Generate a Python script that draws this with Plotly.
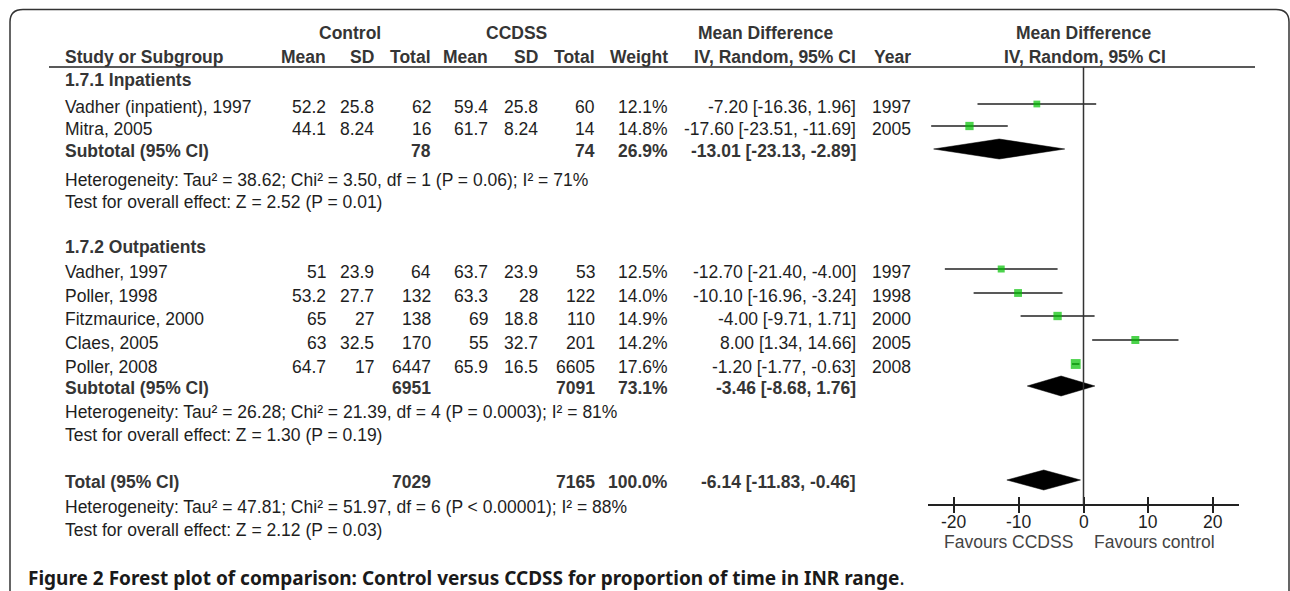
import plotly.graph_objects as go

W, H = 1290, 591

# ---------------- data ----------------
study = ["Vadher (inpatient), 1997", "Mitra, 2005", "Vadher, 1997", "Poller, 1998",
         "Fitzmaurice, 2000", "Claes, 2005", "Poller, 2008"]
ctrl_mean = [52.2, 44.1, 51, 53.2, 65, 63, 64.7]
ctrl_sd = [25.8, 8.24, 23.9, 27.7, 27, 32.5, 17]
ctrl_n = [62, 16, 64, 132, 138, 170, 6447]
ccdss_mean = [59.4, 61.7, 63.7, 63.3, 69, 55, 65.9]
ccdss_sd = [25.8, 8.24, 23.9, 28, 18.8, 32.7, 16.5]
ccdss_n = [60, 14, 53, 122, 110, 201, 6605]
weight = [12.1, 14.8, 12.5, 14.0, 14.9, 14.2, 17.6]
md = [-7.20, -17.60, -12.70, -10.10, -4.00, 8.00, -1.20]
ci_lo = [-16.36, -23.51, -21.40, -16.96, -9.71, 1.34, -1.77]
ci_hi = [1.96, -11.69, -4.00, -3.24, 1.71, 14.66, -0.63]
year = [1997, 2005, 1997, 1998, 2000, 2005, 2008]

group_names = ["1.7.1 Inpatients", "1.7.2 Outpatients"]
pooled_names = ["Subtotal (95% CI)", "Subtotal (95% CI)", "Total (95% CI)"]
pooled_ctrl_n = [78, 6951, 7029]
pooled_ccdss_n = [74, 7091, 7165]
pooled_weight = [26.9, 73.1, 100.0]
pooled_md = [-13.01, -3.46, -6.14]
pooled_lo = [-23.13, -8.68, -11.83]
pooled_hi = [-2.89, 1.76, -0.46]
heterogeneity = [
    "Heterogeneity: Tau² = 38.62; Chi² = 3.50, df = 1 (P = 0.06); I² = 71%",
    "Heterogeneity: Tau² = 26.28; Chi² = 21.39, df = 4 (P = 0.0003); I² = 81%",
    "Heterogeneity: Tau² = 47.81; Chi² = 51.97, df = 6 (P < 0.00001); I² = 88%",
]
overall = [
    "Test for overall effect: Z = 2.52 (P = 0.01)",
    "Test for overall effect: Z = 1.30 (P = 0.19)",
    "Test for overall effect: Z = 2.12 (P = 0.03)",
]
x_ticks = [-20, -10, 0, 10, 20]
x_tick_labels = ["-20", "-10", "0", "10", "20"]
fav_left, fav_right = "Favours CCDSS", "Favours control"
caption_bold = "Figure 2"
caption_text = "Forest plot of comparison: Control versus CCDSS for proportion of time in INR range"

# ---------------- layout (pixel positions) ----------------
FONT = "Liberation Sans, Arial, sans-serif"
FS = 17.5
C_TXT = "#1e1e1e"
C_BOLD = "#353535"
col_x = dict(cm=327, csd=375, cn=432, em=489, esd=539, en=596, w=669, ci=857, yr=912)
LEFT = 64
Y_H1, Y_H2, Y_LINE = 33, 57, 67
Y_GROUP = [80, 247]
Y_STUDY = [107, 129, 272, 296, 319, 343, 367]
Y_POOL = [151, 388, 482]
Y_HET = [180, 412, 507]
Y_TEST = [202, 435, 530]
Y_CAP = 578
Y_TICKLAB = 522
Y_FAV = 542
MARK_SHIFT = -3
POOL_SHIFT = -2
DIAMOND_HALF = 10
Y_AXIS = 504
X0_PX, X1_PX = 928, 1239

ann = []


def txt(x, y, s, anchor="right", bold=False, size=FS, color=None, font=FONT):
    ann.append(dict(
        x=x / W, y=1 - y / H, xref="paper", yref="paper",
        text=f"<b>{s}</b>" if bold else s, showarrow=False,
        xanchor=anchor, yanchor="middle", borderpad=0,
        font=dict(family=font, size=size, color=color or (C_BOLD if bold else C_TXT)),
    ))


# headers
txt(350, Y_H1, "Control", "center", True)
txt(516, Y_H1, "CCDSS", "center", True)
txt(765, Y_H1, "Mean Difference", "center", True)
txt(1083, Y_H1, "Mean Difference", "center", True)
txt(LEFT, Y_H2, "Study or Subgroup", "left", True)
for key, lab in [("cm", "Mean"), ("csd", "SD"), ("cn", "Total"), ("em", "Mean"),
                 ("esd", "SD"), ("en", "Total"), ("w", "Weight"),
                 ("ci", "IV, Random, 95% CI"), ("yr", "Year")]:
    txt(col_x[key], Y_H2, lab, "right", True)
txt(1085, Y_H2, "IV, Random, 95% CI", "center", True)

for gy, gname in zip(Y_GROUP, group_names):
    txt(LEFT, gy, gname, "left", True)

for i in range(len(study)):
    y = Y_STUDY[i]
    txt(LEFT, y, study[i], "left")
    txt(col_x["cm"], y, f"{ctrl_mean[i]:g}")
    txt(col_x["csd"], y, f"{ctrl_sd[i]:g}")
    txt(col_x["cn"], y, f"{ctrl_n[i]}")
    txt(col_x["em"], y, f"{ccdss_mean[i]:g}")
    txt(col_x["esd"], y, f"{ccdss_sd[i]:g}")
    txt(col_x["en"], y, f"{ccdss_n[i]}")
    txt(col_x["w"], y, f"{weight[i]:.1f}%")
    txt(col_x["ci"], y, f"{md[i]:.2f} [{ci_lo[i]:.2f}, {ci_hi[i]:.2f}]")
    txt(col_x["yr"], y, f"{year[i]}")

for k in range(3):
    y = Y_POOL[k]
    txt(LEFT, y, pooled_names[k], "left", True)
    txt(col_x["cn"], y, f"{pooled_ctrl_n[k]}", bold=True)
    txt(col_x["en"], y, f"{pooled_ccdss_n[k]}", bold=True)
    txt(col_x["w"], y, f"{pooled_weight[k]:.1f}%", bold=True)
    txt(col_x["ci"], y, f"{pooled_md[k]:.2f} [{pooled_lo[k]:.2f}, {pooled_hi[k]:.2f}]", bold=True)
    txt(LEFT, Y_HET[k], heterogeneity[k], "left")
    txt(LEFT, Y_TEST[k], overall[k], "left")

# caption
ann.append(dict(
    x=27 / W, y=1 - Y_CAP / H, xref="paper", yref="paper", showarrow=False,
    xanchor="left", yanchor="middle", borderpad=0,
    text=f"<b>{caption_bold}</b> <b>{caption_text}</b>.",
    font=dict(family="Noto Sans, sans-serif", size=19, color="#1a1a1a"),
))

# tick labels (placed on the data axis at the tick values)
for tv, tl in zip(x_ticks, x_tick_labels):
    ann.append(dict(x=tv, y=1 - Y_TICKLAB / H, xref="x", yref="paper", showarrow=False,
                    xanchor="center", yanchor="middle", text=tl, borderpad=0,
                    font=dict(family=FONT, size=FS, color=C_TXT)))

# favours labels
ann.append(dict(x=0, y=1 - Y_FAV / H, xref="x", yref="paper", showarrow=False,
                xanchor="right", yanchor="middle", xshift=-10, text=fav_left, borderpad=0,
                font=dict(family=FONT, size=FS, color="#444")))
ann.append(dict(x=0, y=1 - Y_FAV / H, xref="x", yref="paper", showarrow=False,
                xanchor="left", yanchor="middle", xshift=9, text=fav_right, borderpad=0,
                font=dict(family=FONT, size=FS, color="#444")))

# ---------------- traces ----------------
fig = go.Figure()
marker_y = [y + MARK_SHIFT for y in Y_STUDY]
fig.add_trace(go.Scatter(
    x=md, y=marker_y, mode="markers",
    marker=dict(symbol="square", color="#00c000", size=[w * 0.56 for w in weight],
                line=dict(width=0)),
    error_x=dict(type="data", symmetric=False,
                 array=[h - m for h, m in zip(ci_hi, md)],
                 arrayminus=[m - l for m, l in zip(md, ci_lo)],
                 color="#222", thickness=1.5, width=0),
    showlegend=False, hoverinfo="skip",
))
for k in range(3):
    yc = Y_POOL[k] + POOL_SHIFT
    fig.add_trace(go.Scatter(
        x=[pooled_lo[k], pooled_md[k], pooled_hi[k], pooled_md[k], pooled_lo[k]],
        y=[yc, yc - DIAMOND_HALF, yc, yc + DIAMOND_HALF, yc],
        mode="lines", fill="toself", fillcolor="#000", line=dict(color="#000", width=0.5),
        showlegend=False, hoverinfo="skip",
    ))

# ---------------- shapes ----------------
shapes = [
    dict(type="line", xref="paper", yref="paper", x0=49 / W, x1=1255 / W,
         y0=1 - Y_LINE / H, y1=1 - Y_LINE / H, line=dict(color="#222", width=1.5)),
    dict(type="line", xref="x", yref="paper", x0=0, x1=0,
         y0=1 - Y_AXIS / H, y1=1 - Y_LINE / H, line=dict(color="#333", width=1.5)),
    dict(type="path", xref="paper", yref="paper",
         path=(f"M {10/W} {1-600/H} L {10/W} {1-22/H} Q {10/W} {1-9.5/H} {23/W} {1-9.5/H} "
               f"L {1276/W} {1-9.5/H} Q {1289/W} {1-9.5/H} {1289/W} {1-22/H} L {1289/W} {1-600/H}"),
         line=dict(color="#333", width=1.5)),
]

dom_x = [X0_PX / W, X1_PX / W]
fig.update_layout(
    width=W, height=H, margin=dict(l=0, r=0, t=0, b=0),
    paper_bgcolor="white", plot_bgcolor="rgba(0,0,0,0)",
    annotations=ann, shapes=shapes,
    xaxis=dict(domain=dom_x, range=[-24, 24], tickvals=x_ticks, showticklabels=False,
               ticks="outside", ticklen=7, tickwidth=1.5, tickcolor="#222", showline=True,
               linecolor="#222", linewidth=1.5, showgrid=False, zeroline=False, anchor="y"),
    xaxis2=dict(domain=dom_x, range=[-24, 24], tickvals=x_ticks, ticks="inside",
                ticklen=7, tickwidth=1.5, tickcolor="#222", showticklabels=False,
                showgrid=False, zeroline=False, overlaying="x", anchor="y", side="bottom"),
    yaxis=dict(domain=[1 - Y_AXIS / H, 1], range=[Y_AXIS, 0], visible=False,
               showgrid=False, zeroline=False),
)
fig.add_trace(go.Scatter(x=[0], y=[Y_AXIS], xaxis="x2", yaxis="y", mode="markers",
                         marker=dict(opacity=0), showlegend=False, hoverinfo="skip"))

fig.write_html(
    "out.html",
    config={"displayModeBar": False},
    post_script="document.body.style.margin='0px';document.body.style.overflow='hidden';",
)
